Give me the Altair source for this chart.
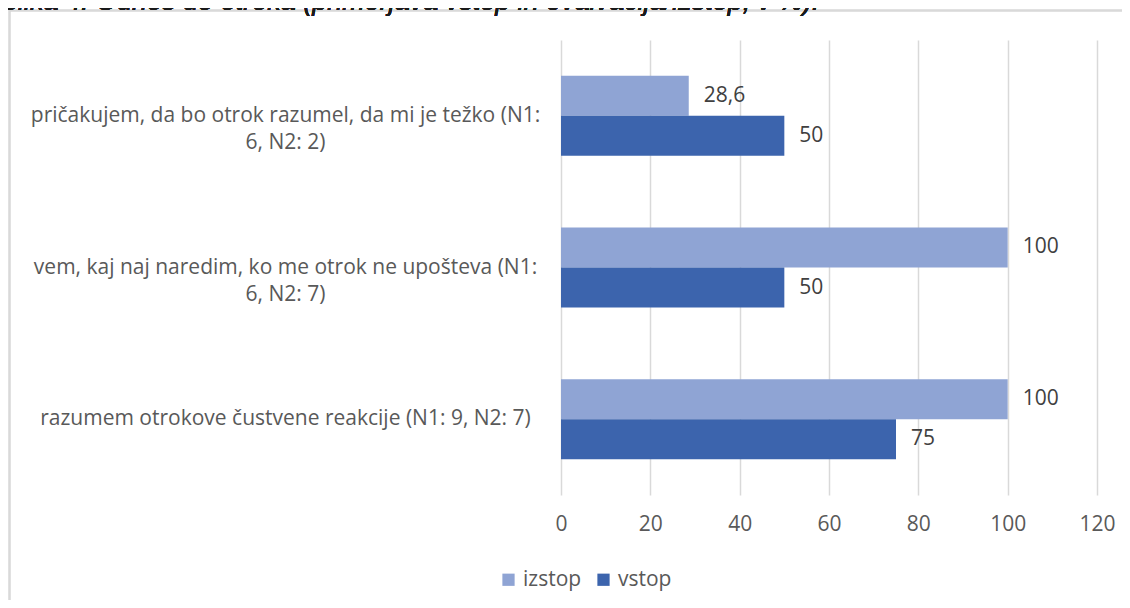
import altair as alt
import pandas as pd

# ---- data ----
categories = [
    "pričakujem, da bo otrok razumel, da mi je težko (N1:\n6, N2: 2)",
    "vem, kaj naj naredim, ko me otrok ne upošteva (N1:\n6, N2: 7)",
    "razumem otrokove čustvene reakcije (N1: 9, N2: 7)",
]
series = ["izstop", "vstop"]
izstop = [28.6, 100, 100]
vstop = [50, 50, 75]
x_ticks = [0, 20, 40, 60, 80, 100, 120]
title_text = "Slika 4: Odnos do otroka (primerjava vstop in evalvacija/izstop, v %)."
colors = ["#8FA4D4", "#3C64AD"]

rows = []
for c, a, b in zip(categories, izstop, vstop):
    rows.append({"kategorija": c, "serija": "izstop", "vrednost": a})
    rows.append({"kategorija": c, "serija": "vstop", "vrednost": b})
df = pd.DataFrame(rows)
df["oznaka"] = df["vrednost"].map(lambda v: f"{v:g}".replace(".", ","))

FONT = "Open Sans"
FS = 21

base = alt.Chart(df)

y_enc = alt.Y(
    "kategorija:N",
    sort=categories,
    scale=alt.Scale(paddingInner=0.472, paddingOuter=0.236),
    axis=alt.Axis(
        title=None,
        domain=False,
        ticks=False,
        tickSize=0,
        labelAlign="center",
        labelBaseline="middle",
        labelPadding=276,
        labelLimit=0,
        labelFont=FONT,
        labelFontSize=FS,
        labelLineHeight=27,
        labelColor="#595959",
        labelExpr="split(datum.label, '\\n')",
    ),
)
x_enc = alt.X(
    "vrednost:Q",
    scale=alt.Scale(domain=[0, 120], nice=False, zero=True),
    axis=alt.Axis(
        title=None,
        values=x_ticks,
        grid=True,
        gridColor="#D9D9D9",
        gridWidth=1.5,
        domain=False,
        ticks=False,
        labelFlush=False,
        labelPadding=18,
        labelFont=FONT,
        labelFontSize=FS,
        labelColor="#595959",
    ),
)
yoff = alt.YOffset("serija:N", sort=series, scale=alt.Scale(paddingInner=0, paddingOuter=0))

bars = base.mark_bar().encode(
    x=x_enc,
    y=y_enc,
    yOffset=yoff,
    color=alt.Color(
        "serija:N",
        sort=series,
        scale=alt.Scale(domain=series, range=colors),
        legend=alt.Legend(
            title=None,
            orient="none",
            direction="horizontal",
            legendX=-63,
            legendY=529,
            symbolType="square",
            symbolSize=150,
            symbolStrokeWidth=0,
            labelFont=FONT,
            labelFontSize=FS,
            labelColor="#595959",
            columnPadding=11,
            labelOffset=4,
        ),
    ),
)

labels = base.mark_text(
    align="left", baseline="middle", dx=15, font=FONT, fontSize=FS, color="#404040"
).encode(
    x="vrednost:Q",
    y=alt.Y("kategorija:N", sort=categories),
    yOffset=alt.YOffset("serija:N", sort=series),
    text="oznaka:N",
)

frame = base.mark_rect(
    fillOpacity=0, stroke="#D9D9D9", strokeWidth=1.5
).encode(
    x=alt.value(-551.5), x2=alt.value(580), y=alt.value(-29.5), y2=alt.value(600)
)

title = base.mark_text(
    align="left", baseline="alphabetic", font="Liberation Sans", fontStyle="italic",
    fontSize=27, color="#1a1a1a"
).encode(
    x=alt.value(-561), y=alt.value(-30), text=alt.value(title_text)
)

chart = (
    alt.layer(frame, bars, labels, title)
    .properties(
        width=536,
        height=455,
        autosize=alt.AutoSizeParams(type="none"),
        padding={"left": 553, "top": 32, "right": 25, "bottom": 105},
        background="white",
    )
    .configure_view(stroke=None)
)

chart.save("out.html", embed_options={"renderer": "svg", "actions": False})
